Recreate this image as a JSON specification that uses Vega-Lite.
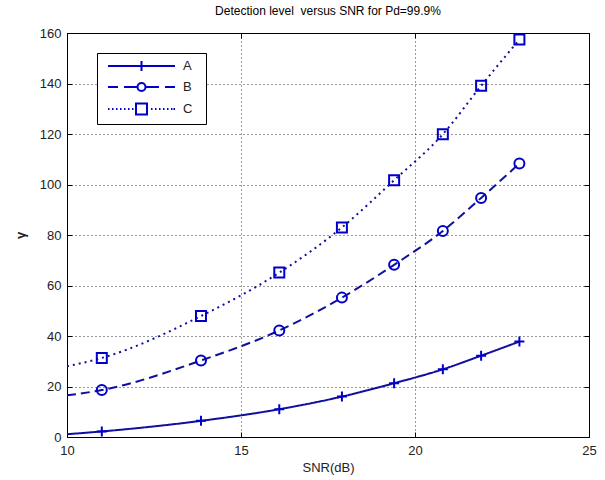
{
  "$schema": "https://vega.github.io/schema/vega-lite/v6.json",
  "autosize": "none",
  "padding": {"left": 67, "top": 33, "right": 16, "bottom": 43},
  "width": 522,
  "height": 404,
  "background": "white",
  "title": {"text": "Detection level\u00a0 versus SNR for Pd=99.9%", "fontSize": 12, "fontWeight": "normal", "font": "Liberation Sans", "color": "black", "offset": 9, "anchor": "middle"},
  "config": {
    "view": {"stroke": "black", "strokeWidth": 1},
    "font": "Liberation Sans",
    "axis": {"labelFont": "Liberation Sans", "labelFontSize": 13, "labelColor": "#222", "titleFont": "Liberation Sans", "titleFontSize": 13, "titleFontWeight": "normal", "titleColor": "#222", "domain": false, "tickColor": "black", "tickSize": -5, "gridColor": "black", "gridDash": [1, 3], "gridOpacity": 0.8}
  },
  "data": {"values": [
    {"snr": 10, "gamma": 1.1, "series": "A"},
    {"snr": 11, "gamma": 2.2, "series": "A"},
    {"snr": 13.85, "gamma": 6.4, "series": "A"},
    {"snr": 16.1, "gamma": 11.0, "series": "A"},
    {"snr": 17.9, "gamma": 16.0, "series": "A"},
    {"snr": 19.4, "gamma": 21.3, "series": "A"},
    {"snr": 20.8, "gamma": 26.8, "series": "A"},
    {"snr": 21.9, "gamma": 32.2, "series": "A"},
    {"snr": 23, "gamma": 37.8, "series": "A"},
    {"snr": 10, "gamma": 16.5, "series": "B"},
    {"snr": 11, "gamma": 18.6, "series": "B"},
    {"snr": 13.85, "gamma": 30.3, "series": "B"},
    {"snr": 16.1, "gamma": 42.2, "series": "B"},
    {"snr": 17.9, "gamma": 55.2, "series": "B"},
    {"snr": 19.4, "gamma": 68.2, "series": "B"},
    {"snr": 20.8, "gamma": 81.6, "series": "B"},
    {"snr": 21.9, "gamma": 94.7, "series": "B"},
    {"snr": 23, "gamma": 108.3, "series": "B"},
    {"snr": 10, "gamma": 28.0, "series": "C"},
    {"snr": 11, "gamma": 31.3, "series": "C"},
    {"snr": 13.85, "gamma": 47.9, "series": "C"},
    {"snr": 16.1, "gamma": 65.1, "series": "C"},
    {"snr": 17.9, "gamma": 83.0, "series": "C"},
    {"snr": 19.4, "gamma": 101.7, "series": "C"},
    {"snr": 20.8, "gamma": 119.9, "series": "C"},
    {"snr": 21.9, "gamma": 139.1, "series": "C"},
    {"snr": 23, "gamma": 157.4, "series": "C"}
  ]},
  "resolve": {"axis": {"x": "independent", "y": "independent"}, "scale": {"shape": "independent"}, "legend": {"strokeDash": "independent", "shape": "independent"}},
  "layer": [
    {
      "mark": {"type": "line", "interpolate": "monotone", "strokeWidth": 2, "color": "#10109e", "clip": true},
      "encoding": {
        "x": {"field": "snr", "type": "quantitative", "scale": {"domain": [10, 25], "nice": false, "zero": false},
              "axis": {"values": [10, 15, 20, 25], "title": "SNR(dB)", "titlePadding": 4, "labelPadding": 12, "grid": true, "labelFlush": false}},
        "y": {"field": "gamma", "type": "quantitative", "scale": {"domain": [0, 160], "nice": false},
              "axis": {"values": [0, 20, 40, 60, 80, 100, 120, 140, 160], "title": "γ", "titleAngle": 270, "titleFontWeight": "bold", "titlePadding": 12, "labelPadding": 11, "grid": true, "labelFlush": false}},
        "detail": {"field": "series"},
        "strokeDash": {"field": "series", "type": "nominal", "scale": {"domain": ["A", "B", "C"], "range": [[1, 0], [9, 5], [2, 4]]}, "legend": null}
      }
    },
    {
      "transform": [{"filter": "datum.snr > 10"}],
      "mark": {"type": "point", "filled": false, "strokeWidth": 2, "color": "#0000c8", "opacity": 1},
      "encoding": {
        "x": {"field": "snr", "type": "quantitative", "axis": {"orient": "top", "values": [10, 15, 20, 25], "labels": false, "title": null, "grid": false}},
        "y": {"field": "gamma", "type": "quantitative", "axis": {"orient": "right", "values": [0, 20, 40, 60, 80, 100, 120, 140, 160], "labels": false, "title": null, "grid": false}},
        "shape": {"field": "series", "type": "nominal", "scale": {"domain": ["A", "B", "C"], "range": ["M-1,0H1M0,-1V1", "circle", "square"]}, "legend": null},
        "size": {"value": 100}
      }
    },
    {
      "transform": [{"filter": "datum.snr < 0"}],
      "mark": {"type": "point", "filled": false, "strokeWidth": 2, "color": "#0000c8", "opacity": 1},
      "encoding": {
        "x": {"field": "snr", "type": "quantitative", "axis": null},
        "y": {"field": "gamma", "type": "quantitative", "axis": null},
        "shape": {"field": "series", "type": "nominal", "scale": {"domain": ["A", "B", "C"], "range": [
            "M-2,0M12.3,0M-0.286,0H9.286M4.5,-0.714V0.714",
            "M-2,0M12.3,0M-0.286,0H1.143M2.0,0H3.929M5.071,0H7.0M7.857,0H9.286M5.071,0A0.571,0.571 0 1,1 3.929,0A0.571,0.571 0 1,1 5.071,0Z",
            "M-2,0M12.3,0M-0.286,0h0.214M0.286,0h0.214M0.857,0h0.214M1.428,0h0.214M2.0,0h0.214M2.571,0h0.214M3.143,0h0.214M5.857,0h0.214M6.428,0h0.214M7.0,0h0.214M7.571,0h0.214M8.143,0h0.214M8.714,0h0.214M9.071,0h0.214M3.714,-0.786H5.286V0.786H3.714Z"]},
          "legend": {"title": null, "orient": "none", "legendX": 30, "legendY": 20, "strokeColor": "black", "padding": 5, "fillColor": "white",
            "labelFontSize": 13, "labelFont": "Liberation Sans", "labelColor": "#222", "labelOffset": 65, "rowPadding": 4,
            "symbolSize": 196, "symbolStrokeWidth": 2, "symbolStrokeColor": "#0000c8", "symbolFillColor": "transparent", "symbolOpacity": 1}
        },
        "size": {"value": 100}
      }
    }
  ]
}
